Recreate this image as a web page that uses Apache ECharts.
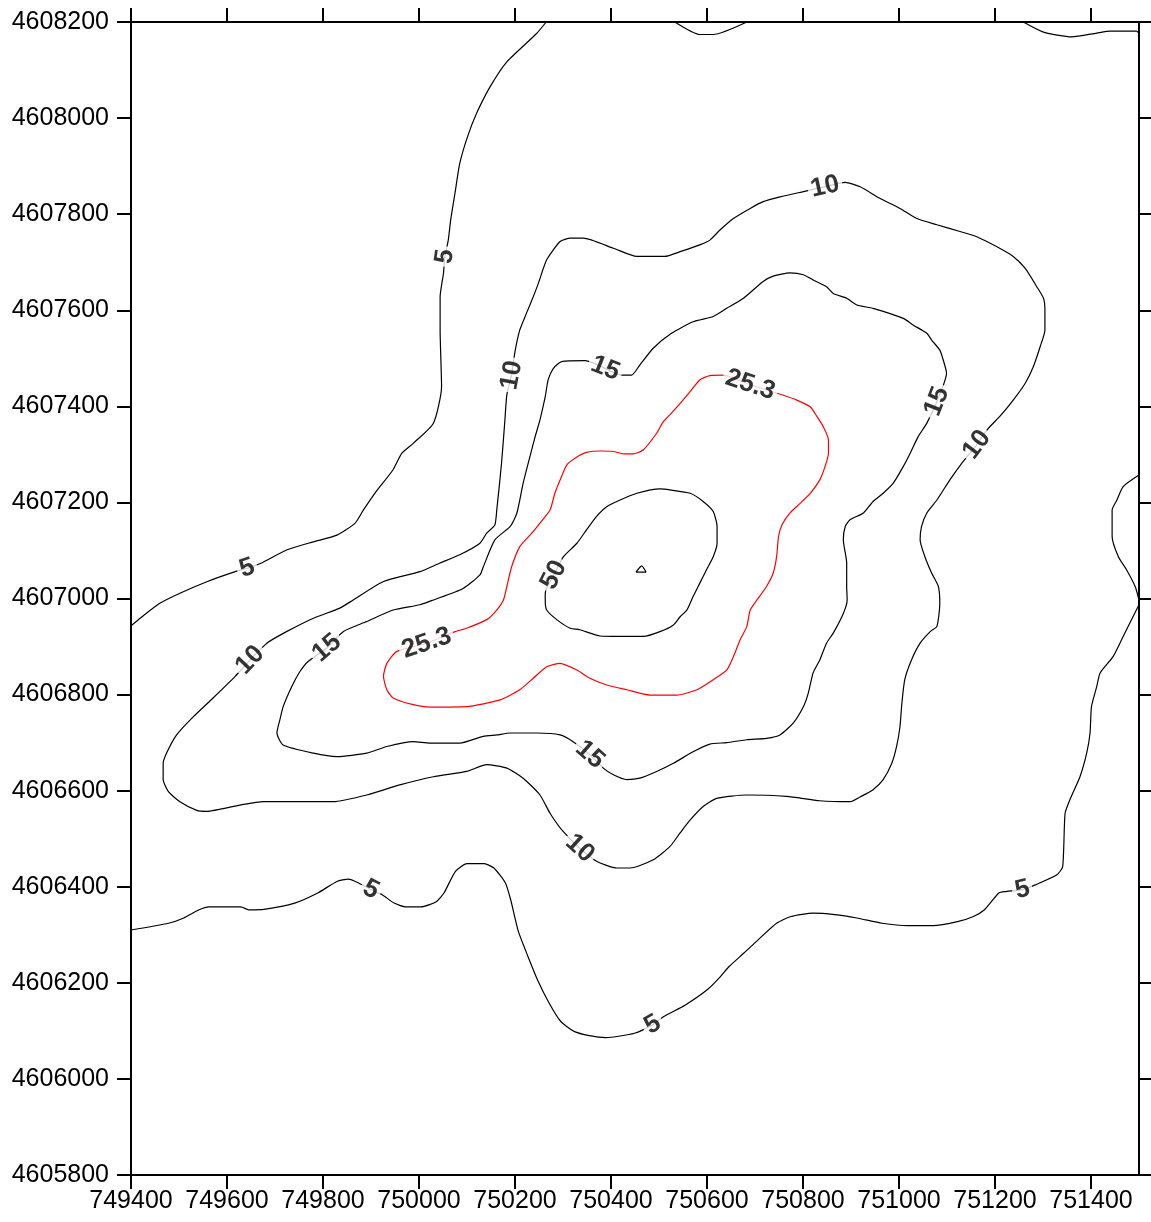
<!DOCTYPE html>
<html><head><meta charset="utf-8">
<script src="https://cdn.jsdelivr.net/npm/echarts@6/dist/echarts.min.js"></script>
<style>html,body{margin:0;padding:0;background:#fff}#c{width:1151px;height:1222px}</style>
</head><body><div id="c"></div>
<script>
// Axis extents / ticks
const xMin = 749400, xMax = 751500, yMin = 4605800, yMax = 4608200, tickStep = 200;
const xTickValues = [749400,749600,749800,750000,750200,750400,750600,750800,751000,751200,751400];
const yTickValues = [4605800,4606000,4606200,4606400,4606600,4606800,4607000,4607200,4607400,4607600,4607800,4608000,4608200];

// Contour level 5 (several open pieces)
const c5a = [[750265,4608200],[750245,4608176],[750183,4608117],[750148,4608065],[750120,4608010],[750101,4607961],[750085,4607906],[750075,4607844],[750066,4607788],[750061,4607746],[750054,4607712],[750051,4607677],[750044,4607628],[750044,4607559],[750047,4607441],[750030,4607365],[749988,4607323],[749964,4607302],[749946,4607268],[749908,4607219],[749884,4607184],[749867,4607157],[749829,4607132],[749780,4607118],[749724,4607101],[749672,4607074],[749642,4607063],[749617,4607056],[749558,4607035],[749502,4607011],[749460,4606990],[749419,4606959],[749400,4606943]];
const c5b = [[749400,4606310],[749478,4606324],[749510,4606335],[749542,4606352],[749562,4606358],[749629,4606358],[749645,4606352],[749677,4606353],[749741,4606366],[749789,4606387],[749829,4606411],[749853,4606416],[749872,4606409],[749900,4606394],[749924,4606383],[749948,4606366],[749972,4606358],[750004,4606358],[750036,4606369],[750052,4606387],[750076,4606432],[750100,4606448],[750136,4606448],[750156,4606439],[750180,4606408],[750191,4606373],[750207,4606307],[750227,4606255],[750247,4606206],[750271,4606158],[750295,4606120],[750323,4606099],[750355,4606090],[750389,4606086],[750449,4606095],[750487,4606113],[750510,4606130],[750555,4606154],[750601,4606186],[750628,4606213],[750646,4606234],[750677,4606262],[750707,4606290],[750745,4606324],[750775,4606338],[750821,4606345],[750866,4606342],[750912,4606335],[750965,4606324],[751018,4606319],[751071,4606319],[751124,4606328],[751155,4606338],[751178,4606352],[751208,4606387],[751223,4606390],[751257,4606394],[751284,4606404],[751329,4606425],[751341,4606442],[751346,4606553],[751356,4606581],[751377,4606629],[751391,4606678],[751398,4606720],[751401,4606775],[751412,4606817],[751419,4606845],[751446,4606879],[751467,4606921],[751500,4606987]];
const c5c = [[751500,4607257],[751467,4607233],[751454,4607205],[751444,4607184],[751444,4607129],[751457,4607087],[751474,4607060],[751492,4607025],[751500,4606997]];
const c5d = [[750533,4608200],[750585,4608174],[750613,4608174],[750683,4608200]];
const c5e = [[751259,4608200],[751301,4608179],[751360,4608169],[751412,4608177],[751440,4608181],[751495,4608181],[751500,4608176]];

// Contour level 10 (closed)
const c10 = [[750193,4607465],[750200,4607514],[750210,4607559],[750224,4607594],[750238,4607628],[750249,4607657],[750266,4607705],[750294,4607743],[750315,4607750],[750342,4607750],[750405,4607729],[750454,4607712],[750512,4607712],[750544,4607722],[750585,4607736],[750606,4607746],[750627,4607767],[750655,4607791],[750690,4607812],[750717,4607826],[750752,4607836],[750801,4607847],[750846,4607857],[750888,4607866],[750919,4607857],[750960,4607833],[751002,4607812],[751037,4607791],[751079,4607778],[751127,4607764],[751162,4607753],[751204,4607732],[751238,4607712],[751263,4607687],[751287,4607649],[751301,4607625],[751304,4607601],[751304,4607559],[751294,4607524],[751280,4607483],[751263,4607448],[751238,4607413],[751210,4607379],[751186,4607354],[751162,4607320],[751131,4607282],[751106,4607247],[751079,4607205],[751058,4607178],[751047,4607150],[751044,4607122],[751054,4607087],[751068,4607053],[751082,4607025],[751085,4606990],[751079,4606942],[751065,4606931],[751044,4606907],[751026,4606872],[751012,4606831],[751006,4606782],[751002,4606733],[750995,4606692],[750985,4606657],[750967,4606623],[750946,4606602],[750919,4606587],[750898,4606577],[750835,4606579],[750766,4606588],[750683,4606591],[750620,4606584],[750592,4606567],[750565,4606539],[750544,4606512],[750523,4606484],[750488,4606456],[750440,4606439],[750412,4606439],[750370,4606453],[750335,4606480],[750297,4606519],[750273,4606553],[750252,4606591],[750217,4606626],[750183,4606647],[750141,4606654],[750099,4606640],[750030,4606629],[749960,4606612],[749891,4606591],[749821,4606577],[749724,4606577],[749676,4606577],[749627,4606570],[749558,4606557],[749537,4606559],[749502,4606577],[749478,4606598],[749467,4606623],[749467,4606657],[749474,4606678],[749495,4606716],[749530,4606754],[749571,4606793],[749617,4606838],[749648,4606872],[749683,4606907],[749724,4606931],[749780,4606959],[749835,4606980],[749863,4606997],[749925,4607035],[750002,4607056],[750044,4607074],[750085,4607091],[750127,4607115],[750141,4607136],[750158,4607153],[750162,4607184],[750172,4607282],[750179,4607372],[750183,4607424]];

// Contour level 15 (closed)
const c15 = [[750388,4607479],[750346,4607495],[750297,4607493],[750280,4607479],[750269,4607455],[750263,4607420],[750252,4607372],[750242,4607337],[750231,4607295],[750217,4607240],[750204,4607178],[750190,4607150],[750158,4607122],[750134,4607066],[750127,4607049],[750092,4607021],[750030,4606997],[750002,4606987],[749946,4606976],[749891,4606952],[749842,4606931],[749808,4606897],[749769,4606869],[749752,4606848],[749735,4606817],[749717,4606775],[749710,4606747],[749704,4606720],[749717,4606695],[749780,4606678],[749829,4606671],[749891,4606678],[749933,4606692],[749988,4606702],[750023,4606699],[750085,4606699],[750134,4606713],[750162,4606716],[750190,4606720],[750245,4606720],[750294,4606716],[750321,4606702],[750356,4606675],[750384,4606647],[750405,4606633],[750433,4606623],[750460,4606626],[750495,4606640],[750530,4606657],[750571,4606681],[750606,4606697],[750641,4606700],[750683,4606706],[750724,4606709],[750752,4606716],[750780,4606741],[750801,4606775],[750811,4606803],[750821,4606845],[750835,4606872],[750849,4606907],[750863,4606928],[750884,4606969],[750892,4606997],[750891,4607025],[750891,4607074],[750884,4607122],[750888,4607150],[750898,4607164],[750926,4607178],[750946,4607202],[750967,4607219],[750988,4607240],[751009,4607275],[751023,4607302],[751040,4607337],[751058,4607365],[751079,4607410],[751099,4607469],[751092,4607497],[751085,4607517],[751068,4607538],[751058,4607552],[751030,4607569],[751009,4607583],[750946,4607604],[750912,4607611],[750891,4607625],[750863,4607635],[750849,4607649],[750821,4607663],[750801,4607674],[750773,4607678],[750738,4607671],[750717,4607660],[750676,4607625],[750641,4607604],[750613,4607587],[750571,4607576],[750526,4607552],[750488,4607521],[750460,4607486],[750443,4607465],[750422,4607465]];

// Contour level 25.3 (closed)
const c25 = [[750690,4607445],[750631,4607465],[750606,4607464],[750585,4607455],[750565,4607431],[750544,4607406],[750526,4607386],[750509,4607368],[750495,4607344],[750467,4607309],[750446,4607301],[750426,4607301],[750405,4607306],[750381,4607307],[750349,4607304],[750325,4607292],[750308,4607278],[750297,4607254],[750283,4607219],[750273,4607184],[750252,4607157],[750235,4607136],[750210,4607108],[750193,4607066],[750183,4607025],[750176,4606997],[750162,4606976],[750141,4606956],[750099,4606938],[750075,4606931],[750016,4606907],[749954,4606890],[749933,4606865],[749926,4606838],[749933,4606810],[749946,4606793],[749988,4606779],[750023,4606774],[750099,4606775],[750169,4606789],[750210,4606810],[750238,4606834],[750266,4606858],[750294,4606865],[750329,4606851],[750356,4606834],[750391,4606820],[750433,4606810],[750481,4606799],[750537,4606799],[750579,4606810],[750613,4606831],[750641,4606851],[750655,4606879],[750669,4606914],[750683,4606942],[750690,4606976],[750704,4606997],[750724,4607025],[750738,4607053],[750745,4607087],[750749,4607129],[750756,4607153],[750773,4607178],[750794,4607198],[750815,4607219],[750835,4607247],[750846,4607275],[750853,4607302],[750853,4607330],[750842,4607358],[750829,4607379],[750815,4607399],[750787,4607413],[750756,4607424]];

// Contour level 50 (closed)
const c50 = [[750281,4607049],[750301,4607087],[750329,4607115],[750349,4607143],[750370,4607171],[750391,4607191],[750419,4607205],[750454,4607219],[750502,4607228],[750523,4607226],[750565,4607219],[750592,4607202],[750613,4607181],[750621,4607150],[750621,4607115],[750613,4607087],[750599,4607060],[750585,4607032],[750571,4607004],[750558,4606976],[750544,4606962],[750530,4606945],[750502,4606931],[750467,4606921],[750419,4606921],[750377,4606922],[750335,4606935],[750315,4606938],[750287,4606956],[750266,4606976],[750263,4606997],[750263,4607011]];

// Tiny peak contour
const cPeak = [[750452,4607055],[750464,4607068],[750473,4607055]];

// Contour definitions: name, level, points, closed
const contours = [
  {name:'c5a', level:5, pts:c5a, closed:false},
  {name:'c5b', level:5, pts:c5b, closed:false},
  {name:'c5c', level:5, pts:c5c, closed:false},
  {name:'c5d', level:5, pts:c5d, closed:false},
  {name:'c5e', level:5, pts:c5e, closed:false},
  {name:'c10', level:10, pts:c10, closed:true},
  {name:'c15', level:15, pts:c15, closed:true},
  {name:'c25', level:25.3, pts:c25, closed:true},
  {name:'c50', level:50, pts:c50, closed:true},
  {name:'cPeak', level:100, pts:cPeak, closed:true}
];

// Label placements: contour name + vertex index
const labelSpots = [
  ['c5a',10],['c5a',26],['c5b',13],['c5b',35],['c5b',56],
  ['c10',0],['c10',22],['c10',44],['c10',80],['c10',106],
  ['c15',0],['c15',21],['c15',42],['c15',77],
  ['c25',0],['c25',30],
  ['c50',0]
];

const byName = {};
contours.forEach(c => byName[c.name] = c);

function labelAngle(c, i) {
  const p = c.pts, n = p.length;
  const a = p[c.closed ? (i - 1 + n) % n : Math.max(i - 1, 0)];
  const b = p[c.closed ? (i + 1) % n : Math.min(i + 1, n - 1)];
  let ang = Math.atan2(b[1] - a[1], b[0] - a[0]) * 180 / Math.PI;
  if (ang > 90) ang -= 180;
  if (ang < -90) ang += 180;
  return ang;
}

const series = contours.map(c => ({
  type: 'line',
  data: c.closed ? c.pts.concat([c.pts[0]]) : c.pts,
  showSymbol: false, symbol: 'none', smooth: 0.2,
  silent: true, animation: false, z: 2,
  xAxisIndex: 0, yAxisIndex: 0,
  lineStyle: {color: c.level === 25.3 ? '#ff0000' : '#000000', width: 1.2}
}));

series.push({
  type: 'scatter', xAxisIndex: 0, yAxisIndex: 0, z: 5,
  symbolSize: 1, itemStyle: {color: 'rgba(0,0,0,0)'},
  silent: true, animation: false,
  data: labelSpots.map(([nm, i]) => {
    const c = byName[nm];
    return {
      value: c.pts[i],
      name: String(c.level),
      label: {rotate: labelAngle(c, i)}
    };
  }),
  label: {
    show: true, position: 'inside', formatter: '{b}',
    fontSize: 26, fontWeight: 'bold', color: '#000000',
    textBorderWidth: 0,
    fontFamily: '"Liberation Sans", Arial, sans-serif',
    backgroundColor: '#ffffff', padding: [0, 3]
  }
});

const axisFont = {fontSize: 25, color: '#000', fontFamily: '"Liberation Sans", Arial, sans-serif'};
const lineSty = {color: '#000', width: 2};
const plain = v => String(v);

const option = {
  animation: false,
  backgroundColor: '#fff',
  grid: {left: 131, right: 12, top: 22, bottom: 47, containLabel: false, outerBoundsMode: 'none'},
  xAxis: [
    {type: 'value', position: 'bottom', min: xMin, max: xMax, interval: tickStep,
     axisLine: {show: true, onZero: false, lineStyle: lineSty},
     axisTick: {show: true, inside: false, length: 14, lineStyle: lineSty, customValues: xTickValues},
     axisLabel: Object.assign({show: true, margin: 14, customValues: xTickValues, formatter: plain}, axisFont),
     splitLine: {show: false}},
    {type: 'value', position: 'top', min: xMin, max: xMax, interval: tickStep,
     axisLine: {show: true, onZero: false, lineStyle: lineSty},
     axisTick: {show: true, inside: false, length: 14, lineStyle: lineSty, customValues: xTickValues},
     axisLabel: {show: false}, splitLine: {show: false}}
  ],
  yAxis: [
    {type: 'value', position: 'left', min: yMin, max: yMax, interval: tickStep,
     axisLine: {show: true, onZero: false, lineStyle: lineSty},
     axisTick: {show: true, inside: false, length: 14, lineStyle: lineSty, customValues: yTickValues},
     axisLabel: Object.assign({show: true, margin: 22, customValues: yTickValues, formatter: plain}, axisFont),
     splitLine: {show: false}},
    {type: 'value', position: 'right', min: yMin, max: yMax, interval: tickStep,
     axisLine: {show: true, onZero: false, lineStyle: lineSty},
     axisTick: {show: true, inside: false, length: 13, lineStyle: lineSty, customValues: yTickValues},
     axisLabel: {show: false}, splitLine: {show: false}}
  ],
  series: series
};

const chart = echarts.init(document.getElementById('c'), null, {renderer: 'canvas'});
chart.setOption(option);
</script>
</body></html>
